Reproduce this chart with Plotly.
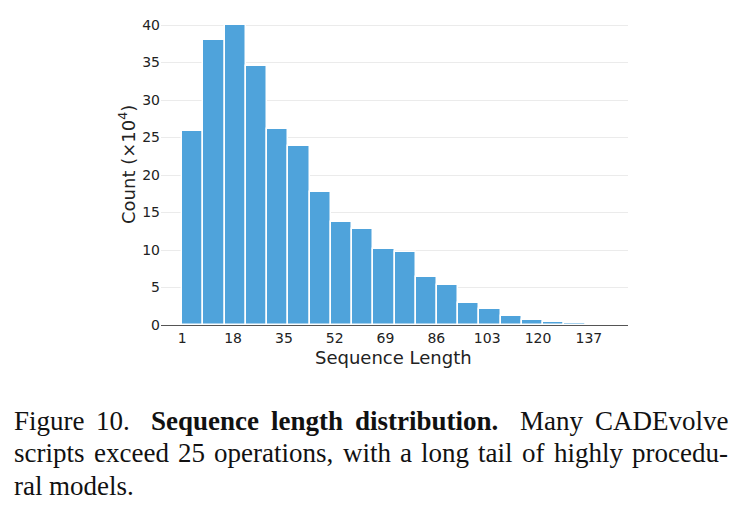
import plotly.graph_objects as go

# Histogram of sequence length (20 equal bins over [1, 143])
bin_start = 1.0
bin_end = 143.0
n_bins = 20
counts_1e4 = [25.9, 38.0, 40.0, 34.55, 26.2, 23.85, 17.8, 13.7, 12.75, 10.2,
              9.8, 6.45, 5.3, 3.0, 2.1, 1.15, 0.68, 0.4, 0.22, 0.1]
x_tick_vals = [1, 18, 35, 52, 69, 86, 103, 120, 137]
y_tick_vals = [0, 5, 10, 15, 20, 25, 30, 35, 40]

# caption words: (text, bold, extra-space-after-weight); line justified flag
caption_lines = [
    ([("Figure", 0, 1), ("10.", 0, 1.8), ("Sequence", 1, 1), ("length", 1, 1),
      ("distribution.", 1, 1.8), ("Many", 0, 1), ("CADEvolve", 0, 0)], True),
    ([(w, 0, 1) for w in "scripts exceed 25 operations, with a long tail of highly procedu-".split()], True),
    ([(w, 0, 1) for w in "ral models.".split()], False),
]

# Times-like advance widths (per 1000 em) for layout of the justified caption
REG = dict(zip("abcdefghijklmnopqrstuvwxyz",
               [444, 500, 444, 500, 444, 333, 500, 500, 278, 278, 500, 278, 778,
                500, 500, 500, 500, 333, 389, 278, 500, 500, 722, 500, 500, 444]))
REG.update({",": 250, ".": 250, "-": 333, "F": 556, "C": 667, "A": 722, "D": 722,
            "E": 611, "M": 889})
for d in "0123456789":
    REG[d] = 500
BOLD = dict(zip("abcdefghijklmnopqrstuvwxyz",
                [500, 556, 444, 556, 444, 333, 500, 556, 278, 333, 556, 278, 833,
                 556, 500, 556, 556, 444, 389, 333, 556, 500, 722, 500, 500, 444]))
BOLD.update({".": 250, "S": 556})

bw = (bin_end - bin_start) / n_bins
centers = [bin_start + bw * (i + 0.5) for i in range(n_bins)]

fig = go.Figure()
fig.add_trace(go.Bar(
    x=centers, y=counts_1e4, width=[bw] * n_bins,
    marker=dict(color="#4FA3DB", line=dict(color="white", width=1.5)),
    showlegend=False,
))

L, R, T, B = 161, 112, 10, 190
W, H = 740, 515
pw = W - L - R
ph = H - T - B

span = bin_end - bin_start
fig.update_layout(
    width=W, height=H,
    margin=dict(l=L, r=R, t=T, b=B),
    paper_bgcolor="white", plot_bgcolor="white",
    font=dict(family="DejaVu Sans", size=14, color="#222"),
    bargap=0,
    xaxis=dict(
        range=[bin_start - 0.05 * span, bin_end + 0.05 * span],
        tickvals=x_tick_vals, ticks="", showgrid=False, zeroline=False,
        showline=True, linecolor="#555", linewidth=1.2,
        tickfont=dict(size=14, color="#222"),
    ),
    yaxis=dict(
        range=[0, 42], tickvals=y_tick_vals, ticks="",
        showgrid=True, gridcolor="#EBEBEB", gridwidth=1,
        zeroline=False, showline=False,
        tickfont=dict(size=14, color="#222"),
    ),
)


def px2paper(px, py):
    return (px - L) / pw, (H - B - py) / ph


annotations = []
ax, ay = px2paper(127, 165)
annotations.append(dict(text="Count (×10<sup>4</sup>)", x=ax, y=ay, xref="paper", yref="paper",
                        xanchor="center", yanchor="middle", textangle=-90, showarrow=False,
                        font=dict(size=18, color="#222")))
ax, ay = px2paper(393, 345)
annotations.append(dict(text="Sequence Length", x=ax, y=ay, xref="paper", yref="paper",
                        xanchor="center", yanchor="top", showarrow=False,
                        font=dict(size=18, color="#222")))

cap_fs = 27
x_left, x_right = 12, 726
line_y = [421, 453, 486]
for (words, justify), py in zip(caption_lines, line_y):
    widths = []
    for w, b, _ in words:
        tbl = BOLD if b else REG
        widths.append(sum(tbl.get(ch, 500) for ch in w) * cap_fs / 1000)
    weights = [g for _, _, g in words[:-1]]
    if justify:
        unit = (x_right - x_left - sum(widths)) / sum(weights)
    else:
        unit = 0.25 * cap_fs
    x = x_left
    for (w, b, g), wd in zip(words, widths):
        ax, ay = px2paper(x, py)
        annotations.append(dict(text=f"<b>{w}</b>" if b else w, x=ax, y=ay,
                                xref="paper", yref="paper", xanchor="left", yanchor="middle",
                                showarrow=False,
                                font=dict(family="Liberation Serif", size=cap_fs, color="#111")))
        x += wd + unit * g

fig.update_layout(annotations=annotations)
fig.write_html("out.html")
